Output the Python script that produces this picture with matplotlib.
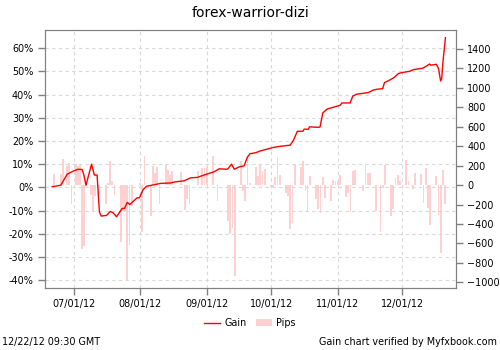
import matplotlib
matplotlib.use("Agg")
import matplotlib.pyplot as plt
import matplotlib.dates as mdates
from matplotlib.lines import Line2D
from matplotlib.patches import Patch
from matplotlib.ticker import FuncFormatter, MultipleLocator
import pandas as pd

plt.rcParams.update({'font.size': 6.9, 'font.family': 'DejaVu Sans'})

# gain curve (%)
gain_dates = [
    "2012-06-21", "2012-06-25", "2012-06-28", "2012-07-01", "2012-07-03",
    "2012-07-04 22:00", "2012-07-05 16:00", "2012-07-06 18:00", "2012-07-09 08:00",
    "2012-07-10 16:00", "2012-07-11 22:00", "2012-07-13", "2012-07-13 20:00",
    "2012-07-16 08:00", "2012-07-18 02:00", "2012-07-19 10:00", "2012-07-21",
    "2012-07-23 14:00", "2012-07-24 16:00", "2012-07-26", "2012-07-27 04:00",
    "2012-07-30 14:00", "2012-07-31 16:00", "2012-08-02 10:00", "2012-08-04",
    "2012-08-07 10:00", "2012-08-10 12:00", "2012-08-15 04:00", "2012-08-17 12:00",
    "2012-08-21 10:00", "2012-08-24 12:00", "2012-08-27 16:00", "2012-08-30 16:00",
    "2012-09-04 10:00", "2012-09-06 20:00", "2012-09-10 16:00", "2012-09-12 14:00",
    "2012-09-13 20:00", "2012-09-16 02:00", "2012-09-18 10:00", "2012-09-20",
    "2012-09-21 04:00", "2012-09-24", "2012-09-25 22:00", "2012-10-02",
    "2012-10-04 10:00", "2012-10-09 22:00", "2012-10-11 10:00", "2012-10-13 06:00",
    "2012-10-15 20:00", "2012-10-16 10:00", "2012-10-18 10:00", "2012-10-18 22:00",
    "2012-10-23 02:00", "2012-10-23 20:00", "2012-10-25 02:00", "2012-10-27 04:00",
    "2012-11-02 04:00", "2012-11-03", "2012-11-06 20:00", "2012-11-08 02:00",
    "2012-11-09 22:00", "2012-11-15 08:00", "2012-11-17 10:00", "2012-11-19 04:00",
    "2012-11-22", "2012-11-22 20:00", "2012-11-25 02:00", "2012-11-27 08:00",
    "2012-11-29 08:00", "2012-11-30 22:00", "2012-12-04 16:00", "2012-12-06 08:00",
    "2012-12-10 16:00", "2012-12-12 04:00", "2012-12-13 20:00", "2012-12-14 10:00",
    "2012-12-17", "2012-12-18", "2012-12-19", "2012-12-19 12:00",
    "2012-12-20 02:00", "2012-12-21 06:00",
]
gain_values = [
    0.3, 0.9, 5.7, 7.1, 7.8,
    7.7, 5.7, 0.9, 10.0,
    5.3, 5.3, -10.6, -12.4,
    -12.1, -10.4, -11.0, -12.7,
    -9.1, -9.1, -6.5, -7.4,
    -4.5, -4.5, -0.9, 0.5,
    1.1, 1.7, 1.9, 2.4,
    2.8, 4.1, 4.3, 5.3,
    6.7, 8.0, 7.8, 10.0,
    7.8, 8.8, 9.3, 13.1,
    14.5, 15.0, 15.7, 17.2,
    17.6, 18.2, 20.3, 24.2,
    24.2, 25.1, 25.1, 26.1,
    25.9, 26.1, 32.1, 33.8,
    35.4, 36.4, 36.4, 39.4,
    40.2, 40.9, 41.9, 42.3,
    42.6, 45.2, 46.2, 47.4,
    49.1, 49.5, 50.1, 50.8,
    51.4, 52.2, 53.2, 52.7,
    53.1, 51.3, 45.9, 46.9,
    54.1, 64.6,
]

# daily pips
pip_dates = [
    "2012-06-22", "2012-06-25", "2012-06-26", "2012-06-28", "2012-06-29",
    "2012-06-30", "2012-07-02", "2012-07-03", "2012-07-04", "2012-07-05",
    "2012-07-06", "2012-07-09", "2012-07-10", "2012-07-11", "2012-07-13",
    "2012-07-16", "2012-07-17", "2012-07-18", "2012-07-19", "2012-07-20",
    "2012-07-23", "2012-07-24", "2012-07-25", "2012-07-26", "2012-07-27",
    "2012-07-28", "2012-08-01", "2012-08-02", "2012-08-03", "2012-08-06",
    "2012-08-07", "2012-08-08", "2012-08-09", "2012-08-10", "2012-08-13",
    "2012-08-14", "2012-08-15", "2012-08-16", "2012-08-20", "2012-08-22",
    "2012-08-23", "2012-08-24", "2012-08-28", "2012-08-30", "2012-08-31",
    "2012-09-01", "2012-09-04", "2012-09-06", "2012-09-11", "2012-09-12",
    "2012-09-13", "2012-09-14", "2012-09-17", "2012-09-18", "2012-09-19",
    "2012-09-20", "2012-09-21", "2012-09-24", "2012-09-25", "2012-09-26",
    "2012-09-27", "2012-09-28", "2012-10-01", "2012-10-02", "2012-10-03",
    "2012-10-04", "2012-10-05", "2012-10-08", "2012-10-09", "2012-10-10",
    "2012-10-11", "2012-10-12", "2012-10-15", "2012-10-16", "2012-10-17",
    "2012-10-18", "2012-10-19", "2012-10-22", "2012-10-23", "2012-10-24",
    "2012-10-25", "2012-10-26", "2012-10-29", "2012-10-30", "2012-10-31",
    "2012-11-01", "2012-11-02", "2012-11-05", "2012-11-06", "2012-11-07",
    "2012-11-08", "2012-11-09", "2012-11-13", "2012-11-14", "2012-11-15",
    "2012-11-16", "2012-11-19", "2012-11-21", "2012-11-22", "2012-11-23",
    "2012-11-26", "2012-11-27", "2012-11-28", "2012-11-29", "2012-11-30",
    "2012-12-03", "2012-12-04", "2012-12-06", "2012-12-07", "2012-12-10",
    "2012-12-11", "2012-12-12", "2012-12-13", "2012-12-14", "2012-12-17",
    "2012-12-18", "2012-12-19", "2012-12-20", "2012-12-21",
]
pip_values = [
    113, 113, 274, 199, 226,
    -196, 216, 199, 206, -652,
    -624, -103, -264, -110, -103,
    -196, 27, 244, 38, -103,
    -590, -264, -281, -978, -617,
    -213, 27, -480, 302, -316,
    199, 123, 182, -196, 206,
    158, 103, 147, 137, -254,
    -144, -196, 147, 172, 172,
    182, 295, -161, -367, -504,
    -436, -933, 250, -58, -161,
    302, 27, 182, 96, 209,
    147, 165, -24, -24, 79,
    285, 103, -82, -110, -453,
    -391, 216, 182, 250, -58,
    -281, 89, -144, -247, -288,
    79, -137, -161, 55, 45,
    45, 106, -127, -82, -281,
    147, 158, -58, 206, 123,
    123, -264, -480, -34, 206,
    -316, -247, 69, 103, 45,
    261, 45, -41, 130, 113,
    -185, 175, -230, -412, 89,
    -309, -693, 158, -196,
]

gain_x = pd.to_datetime(gain_dates, format="mixed")
pip_x = pd.to_datetime(pip_dates)

fig = plt.figure(figsize=(5, 3.5), dpi=100)
ax = fig.add_axes([0.089, 0.177, 0.823, 0.738])
ax2 = ax.twinx()
ax.set_zorder(ax2.get_zorder() + 1)
ax.patch.set_visible(False)

ax2.bar(pip_x, pip_values, width=0.85, color="#ffd0d0", linewidth=0)
ax.plot(gain_x, gain_values, color="red", linewidth=1.0)

ax.set_ylim(-43.45, 68.0)
ax2.set_ylim(-1058.6, 1598.5)
ax.set_xlim(pd.Timestamp("2012-06-17 10:00"), pd.Timestamp("2012-12-26 04:00"))

ax.yaxis.set_major_locator(MultipleLocator(10))
ax.yaxis.set_major_formatter(FuncFormatter(lambda v, p: "%d%%" % round(v)))
ax2.yaxis.set_major_locator(MultipleLocator(200))
ax.xaxis.set_major_locator(mdates.MonthLocator())
ax.xaxis.set_major_formatter(mdates.DateFormatter("%m/%d/%y"))

ax.grid(True, color="#d8d8d8", linestyle=(0, (3, 3)), linewidth=0.8)

for a in (ax, ax2):
    for s in a.spines.values():
        s.set_color("#808080")
    a.tick_params(colors="#808080", labelcolor="black", length=5, width=1, pad=3)

ax.set_title("forex-warrior-dizi", fontsize=10, pad=9)

handles = [Line2D([0], [0], color="red", linewidth=1.0),
           Patch(facecolor="#ffd0d0", edgecolor="none")]
fig.legend(handles, ["Gain", "Pips"], loc="center", bbox_to_anchor=(0.5, 0.077),
           ncol=2, frameon=False, handlelength=1.6, handletextpad=0.5,
           columnspacing=1.0, fontsize=6.9)

fig.text(0.004, 0.022, "12/22/12 09:30 GMT", fontsize=6.9, ha="left", va="center")
fig.text(0.994, 0.022, "Gain chart verified by Myfxbook.com", fontsize=6.9,
         ha="right", va="center")

fig.savefig("out.png", dpi=100)
